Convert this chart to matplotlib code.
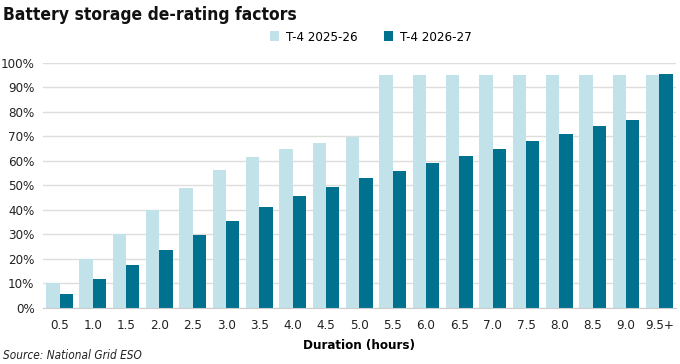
import numpy as np
import matplotlib.pyplot as plt
from matplotlib.ticker import PercentFormatter

plt.rcParams['font.family'] = ['DejaVu Sans']
plt.rcParams['font.stretch'] = 'condensed'

durations = ['0.5', '1.0', '1.5', '2.0', '2.5', '3.0', '3.5', '4.0', '4.5', '5.0',
             '5.5', '6.0', '6.5', '7.0', '7.5', '8.0', '8.5', '9.0', '9.5+']
t4_2025 = [10, 20, 30, 40, 49, 56.2, 61.5, 65, 67.5, 69.6,
           95, 95, 95, 95, 95, 95, 95, 95, 95]
t4_2026 = [5.7, 11.7, 17.6, 23.7, 29.6, 35.5, 41.2, 45.8, 49.4, 52.9,
           55.9, 59.0, 62.0, 64.9, 68.0, 70.9, 74.1, 76.8, 95.6]

light = '#c2e2ea'
dark = '#00718f'

fig = plt.figure(figsize=(6.8, 3.64), dpi=100)
ax = fig.add_axes([0.063, 0.154, 0.931, 0.673])

x = np.arange(len(durations))
w = 0.4
ax.bar(x - w/2, t4_2025, w, color=light, label='T-4 2025-26', zorder=2)
ax.bar(x + w/2, t4_2026, w, color=dark, label='T-4 2026-27', zorder=2)

ax.set_xlim(-0.5, len(durations) - 0.5)
ax.set_ylim(0, 100)
ax.set_yticks(range(0, 101, 10))
ax.yaxis.set_major_formatter(PercentFormatter(decimals=0))
ax.set_xticks(x)
ax.set_xticklabels(durations)
ax.tick_params(length=0, labelsize=9.5, colors='#222222')
ax.tick_params(axis='x', pad=8)
ax.tick_params(axis='y', pad=6)
ax.grid(axis='y', color='#dddddd', linewidth=1, zorder=0)
for s in ['top', 'right', 'left']:
    ax.spines[s].set_visible(False)
ax.spines['bottom'].set_color('#cccccc')

ax.set_xlabel('Duration (hours)', fontsize=9.5, fontweight='bold', labelpad=5)

fig.text(0.005, 0.96, 'Battery storage de-rating factors', fontsize=12.5,
         fontweight='bold', va='center', ha='left', color='#111111')
fig.legend(loc='center', bbox_to_anchor=(0.545, 0.898), ncol=2, frameon=False,
           fontsize=9.5, handlelength=0.7, handleheight=0.7, columnspacing=2.0,
           handletextpad=0.5)
fig.text(0.004, 0.022, 'Source: National Grid ESO', fontsize=8.5, style='italic',
         va='center', ha='left', color='#222222')

fig.savefig('out.png', dpi=100)
